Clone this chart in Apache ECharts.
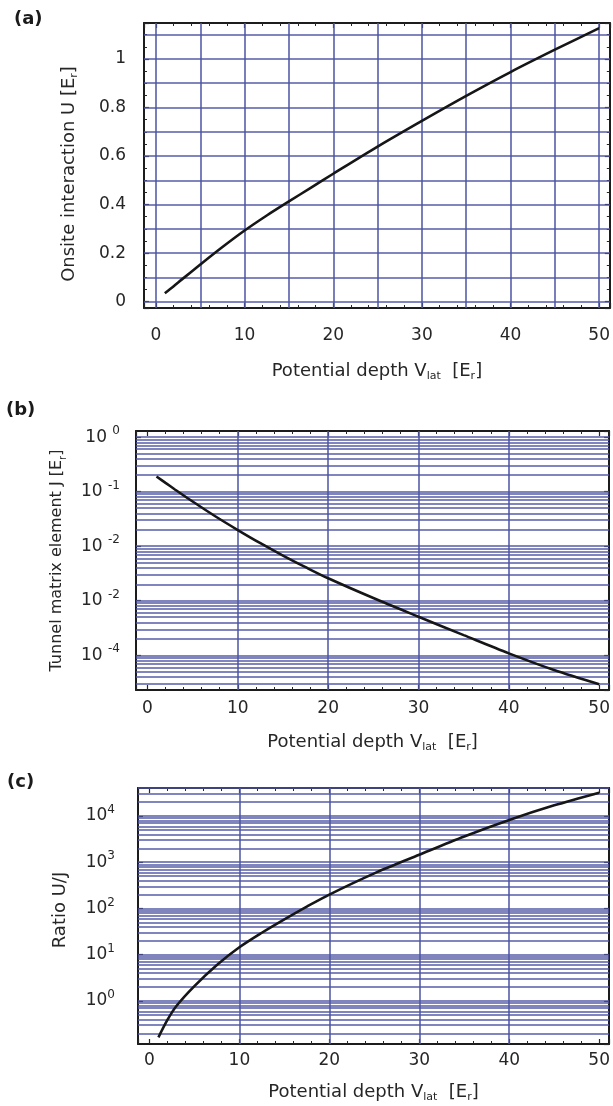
<!DOCTYPE html>
<html>
<head>
<meta charset="utf-8">
<script src="https://cdn.jsdelivr.net/npm/echarts@6/dist/echarts.min.js"></script>
<style>
  html, body { margin: 0; padding: 0; background: #ffffff; }
  #chart { width: 613px; height: 1106px; }
</style>
</head>
<body>
<div id="chart"></div>
<script>
// Lattice depth in recoil energies and the Hubbard parameters derived from it
const depth   = [1, 2, 3, 5, 7.5, 10, 12.5, 15, 17.5, 20, 25, 30, 35, 40, 45, 50];
const onsiteU = [0.035, 0.064, 0.094, 0.153, 0.225, 0.293, 0.355, 0.413, 0.47, 0.527, 0.639, 0.745, 0.848, 0.946, 1.038, 1.127];
const tunnelJ = [0.19, 0.1449, 0.1109, 0.0659, 0.0354, 0.0198, 0.01135, 0.00673, 0.00412, 0.00258, 0.00112, 0.000509, 0.000234, 0.0001084, 0.0000537, 0.0000295];
const ratioUJ = [0.164, 0.39, 0.78, 2.1, 6.0, 14.5, 29.9, 58.2, 110, 200, 575, 1450, 3600, 8200, 17000, 32000];

// Decade tick labels of the two logarithmic axes (exponent -> superscript text)
const jTickExp = [0, -1, -2, -3, -4];
const jTickSup = ['0', '-1', '-2', '-2', '-4'];
const rTickExp = [0, 1, 2, 3, 4];
const rTickSup = ['0', '1', '2', '3', '4'];

const FONT = 'DejaVu Sans';
const INK = '#262626';
const GRID_BLUE = '#4d55a2';

// axis extents of the three panels
const extA = { x: [-1.35, 51.2], y: [-0.026, 1.148] };
const extB = { x: [-1.27, 51.1], y: [2.31e-5, 1.294] };
const extC = { x: [-1.27, 51.1], y: [0.1175, 40300] };

function linValues(from, to, step) {
  const out = [];
  for (let v = from; v <= to + 1e-9; v += step) out.push(+v.toFixed(6));
  return out;
}
function logValues(lo, hi) {
  const out = [];
  for (let k = Math.floor(Math.log10(lo)); k <= Math.ceil(Math.log10(hi)); k++) {
    for (let m = 1; m <= 9; m++) {
      const v = +(m * Math.pow(10, k)).toPrecision(6);
      if (v >= lo && v <= hi) out.push(v);
    }
  }
  return out;
}

const titleRich = (size) => ({
  t:   { fontFamily: FONT, fontSize: size, color: INK, lineHeight: 22 },
  sub: { fontFamily: FONT, fontSize: Math.round(size * 0.62), color: INK, lineHeight: 12, verticalAlign: 'bottom' }
});
const powRich = {
  b: { fontFamily: FONT, fontSize: 17, color: INK, lineHeight: 24 },
  s: { fontFamily: FONT, fontSize: 12, color: INK, lineHeight: 14, verticalAlign: 'top' }
};
const depthTitle = '{t|Potential depth V}{sub|lat}{t|  [E}{sub|r}{t|]}';

function powFormatter(exps, sups, gap) {
  return function (value) {
    const e = Math.round(Math.log10(value));
    const i = exps.indexOf(e);
    if (i < 0 || Math.abs(Math.log10(value) - e) > 1e-6) return '';
    return '{b|10' + gap + '}{s|' + sups[i] + '}';
  };
}

const tickStyle = { show: true, inside: true, length: 5, lineStyle: { color: INK, width: 1.2 } };
const lineStyleFrame = { show: true, onZero: false, lineStyle: { color: '#1c1c1c', width: 2 } };

function xAxesFor(gi, ext, labelMargin, nameGap) {
  const base = {
    type: 'value', gridIndex: gi, min: ext[0], max: ext[1], splitNumber: 5,
    axisLine: lineStyleFrame, axisTick: tickStyle,
    minorTick: { show: true, splitNumber: 5, length: 3, lineStyle: { color: INK, width: 1 } },
    splitLine: { show: false }, minorSplitLine: { show: false }
  };
  return [
    Object.assign({}, base, {
      position: 'bottom',
      axisLabel: { show: true, margin: labelMargin, fontFamily: FONT, fontSize: 17, color: INK, showMinLabel: false, showMaxLabel: false },
      name: depthTitle, nameLocation: 'middle', nameGap: nameGap,
      nameTextStyle: { rich: titleRich(18) }
    }),
    Object.assign({}, base, { position: 'top', axisLabel: { show: false } })
  ];
}

function yAxesFor(gi, ext, type, label, name, nameGap, nameSize, namePad) {
  const base = {
    type: type, gridIndex: gi, min: ext[0], max: ext[1], splitNumber: 5,
    axisLine: lineStyleFrame, axisTick: tickStyle,
    splitLine: { show: false }, minorSplitLine: { show: false }
  };
  if (type === 'log') base.logBase = 10;
  else base.minorTick = { show: true, splitNumber: 4, length: 3, lineStyle: { color: INK, width: 1 } };
  return [
    Object.assign({}, base, {
      position: 'left',
      axisLabel: Object.assign({ show: true, fontFamily: FONT, fontSize: 17, color: INK, showMinLabel: false, showMaxLabel: false }, label),
      name: name, nameLocation: 'middle', nameRotate: 90, nameGap: nameGap,
      nameTextStyle: { rich: titleRich(nameSize), padding: namePad }
    }),
    Object.assign({}, base, { position: 'right', axisLabel: { show: false } })
  ];
}

// blue ruling of a panel, drawn as full-width / full-height marker lines
function gridSeries(gi, hLines, vLines) {
  return {
    type: 'line', xAxisIndex: 2 * gi, yAxisIndex: 2 * gi, data: [], silent: true, z: 1,
    markLine: {
      silent: true, symbol: ['none', 'none'], animation: false, precision: 12,
      label: { show: false }, emphasis: { disabled: true },
      lineStyle: { color: GRID_BLUE, width: 1.6, type: 'solid', opacity: 0.95 },
      data: hLines.map(v => ({ yAxis: v })).concat(vLines.map(v => ({ xAxis: v })))
    }
  };
}

function curveSeries(gi, values) {
  return {
    type: 'line', xAxisIndex: 2 * gi, yAxisIndex: 2 * gi, z: 5,
    data: depth.map((v, i) => [v, values[i]]),
    smooth: 0.3, symbol: 'none', silent: true,
    lineStyle: { color: '#161616', width: 2.6 }
  };
}

const chart = echarts.init(document.getElementById('chart'), null, { renderer: 'canvas' });

const panelLetter = (text, left, top) => ({
  text: text, left: left, top: top, padding: 0,
  textStyle: { fontFamily: FONT, fontSize: 18, fontWeight: 'bold', color: '#1a1a1a' }
});

chart.setOption({
  animation: false,
  backgroundColor: '#ffffff',
  title: [panelLetter('(a)', 14, 10), panelLetter('(b)', 6, 401), panelLetter('(c)', 7, 773)],
  grid: [
    { left: 144, top: 23, width: 467.5, height: 285 },
    { left: 136, top: 431, width: 475.5, height: 259 },
    { left: 138, top: 788, width: 473.5, height: 256 }
  ],
  xAxis: [].concat(
    xAxesFor(0, extA.x, 19, 52),
    xAxesFor(1, extB.x, 10, 41),
    xAxesFor(2, extC.x, 8, 37)
  ),
  yAxis: [].concat(
    yAxesFor(0, extA.y, 'value', { margin: 18 },
      '{t|Onsite interaction U [E}{sub|r}{t|]}', 64, 18, [0, 17, 0, 0]),
    yAxesFor(1, extB.y, 'log', { margin: 16, formatter: powFormatter(jTickExp, jTickSup, ' '), rich: powRich },
      '{t|Tunnel matrix element J [E}{sub|r}{t|]}', 68, 16, 0),
    yAxesFor(2, extC.y, 'log', { margin: 23, formatter: powFormatter(rTickExp, rTickSup, ''), rich: powRich },
      '{t|Ratio U/J}', 67, 18, [0, 0, 0, 12])
  ),
  series: [
    gridSeries(0, linValues(0, 1.1, 0.1), linValues(0, 50, 5)),
    gridSeries(1, logValues(extB.y[0], extB.y[1]), [10, 20, 30, 40]),
    gridSeries(2, logValues(extC.y[0], extC.y[1]), [10, 20, 30, 40]),
    curveSeries(0, onsiteU),
    curveSeries(1, tunnelJ),
    curveSeries(2, ratioUJ)
  ]
});
</script>
</body>
</html>
